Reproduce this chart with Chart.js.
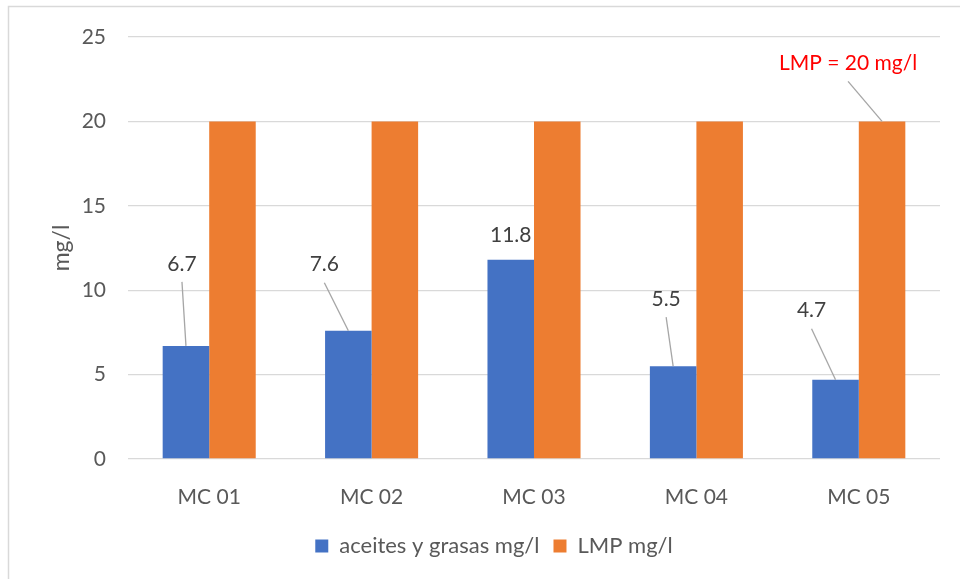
<!DOCTYPE html>
<html>
<head>
<meta charset="utf-8">
<script src="https://cdn.jsdelivr.net/npm/chart.js@4.4.1/dist/chart.umd.min.js"></script>
<style>
  html, body { margin: 0; padding: 0; background: #ffffff; }
  #wrap { position: relative; width: 960px; height: 579px; }
  canvas { display: block; }
</style>
</head>
<body>
<div id="wrap"><canvas id="c" width="960" height="579"></canvas></div>
<script>
const categories = ["MC 01", "MC 02", "MC 03", "MC 04", "MC 05"];
const aceitesGrasas = [6.7, 7.6, 11.8, 5.5, 4.7];
const lmp = [20, 20, 20, 20, 20];
const seriesNames = ["aceites y grasas mg/l", "LMP mg/l"];
const yTicks = [0, 5, 10, 15, 20, 25];
const yTitle = "mg/l";
const lmpLabelText = "LMP = 20 mg/l";

const FONT = "Lato, 'Open Sans', sans-serif";
const TEXT = "#595959";

// label placement (offsets from bar top centre, px)
const labelSpecs = [
  { ds: 0, i: 0, dx: -4,  dy: -82, leader: true },
  { ds: 0, i: 1, dx: -24, dy: -66, leader: true },
  { ds: 0, i: 2, dx: 0,   dy: -25, leader: false },
  { ds: 0, i: 3, dx: -7,  dy: -67, leader: true },
  { ds: 0, i: 4, dx: -24, dy: -69, leader: true },
  { ds: 1, i: 4, dx: -34, dy: -58, leader: true, text: lmpLabelText, color: "#FF0000" }
];

const bgPlugin = {
  id: 'bg',
  beforeDraw(chart) {
    const ctx = chart.ctx;
    ctx.save();
    ctx.fillStyle = '#ffffff';
    ctx.fillRect(0, 0, chart.width, chart.height);
    ctx.strokeStyle = '#D9D9D9';
    ctx.lineWidth = 1.5;
    ctx.beginPath();
    ctx.moveTo(8.5, chart.height + 5);
    ctx.lineTo(8.5, 6.5);
    ctx.lineTo(chart.width + 5, 6.5);
    ctx.stroke();
    ctx.restore();
  }
};

const labelPlugin = {
  id: 'labels',
  afterDatasetsDraw(chart) {
    const ctx = chart.ctx;
    ctx.save();
    ctx.font = "21px " + FONT;
    ctx.textAlign = 'center';
    ctx.textBaseline = 'middle';
    labelSpecs.forEach(s => {
      const el = chart.getDatasetMeta(s.ds).data[s.i];
      const v = chart.data.datasets[s.ds].data[s.i];
      const tx = el.x + s.dx, ty = el.y + s.dy;
      if (s.leader) {
        ctx.strokeStyle = '#A6A6A6';
        ctx.lineWidth = 1.3;
        ctx.beginPath();
        ctx.moveTo(tx, ty + 18);
        ctx.lineTo(el.x, el.y);
        ctx.stroke();
      }
      ctx.fillStyle = s.color || '#404040';
      ctx.fillText(s.text || v.toFixed(1), tx, ty);
    });
    ctx.restore();
  }
};

new Chart(document.getElementById('c'), {
  type: 'bar',
  data: {
    labels: categories,
    datasets: [
      { label: seriesNames[0], data: aceitesGrasas, backgroundColor: '#4472C4' },
      { label: seriesNames[1], data: lmp, backgroundColor: '#ED7D31' }
    ]
  },
  options: {
    responsive: false,
    animation: false,
    devicePixelRatio: 1,
    layout: { padding: { left: 48, right: 20, top: 37, bottom: 12 } },
    datasets: { bar: { categoryPercentage: 0.573, barPercentage: 1.0 } },
    scales: {
      x: {
        grid: { display: false },
        border: { display: false },
        ticks: { color: TEXT, font: { family: FONT, size: 21 }, padding: 18 },
        afterFit(scale) { scale.height = 62; }
      },
      y: {
        min: 0, max: 25,
        afterBuildTicks(scale) { scale.ticks = yTicks.map(v => ({ value: v })); },
        grid: { color: '#D9D9D9', lineWidth: 1.3, drawTicks: false },
        border: { display: false },
        ticks: { color: TEXT, font: { family: FONT, size: 21 }, padding: 22 },
        title: { display: true, text: yTitle, color: TEXT, font: { family: FONT, size: 23 }, padding: 0 },
        afterFit(scale) { scale.width = 80; }
      }
    },
    plugins: {
      legend: {
        position: 'bottom',
        labels: {
          color: TEXT,
          font: { family: FONT, size: 22 },
          boxWidth: 13, boxHeight: 13,
          padding: 14
        }
      },
      tooltip: { enabled: false }
    }
  },
  plugins: [bgPlugin, labelPlugin]
});
</script>
</body>
</html>
